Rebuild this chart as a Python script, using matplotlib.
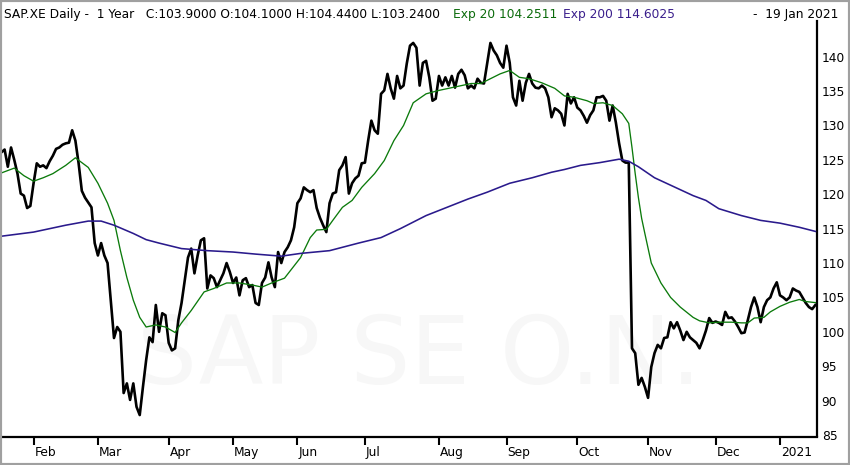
import numpy as np
import pandas as pd
import matplotlib
matplotlib.use("Agg")
import matplotlib.pyplot as plt
from matplotlib.patches import Rectangle
from matplotlib import font_manager

# ---------------- data ----------------
holidays = ['2020-04-10', '2020-04-13', '2020-05-01', '2020-06-01',
            '2020-12-24', '2020-12-25', '2020-12-31', '2021-01-01']

close = [
    126.1, 126.5, 124.0, 126.8, 125.0, 123.0, 120.1, 119.8, 118.0, 118.3,
    121.6, 124.5, 124.0, 124.2, 123.8, 124.8, 125.6, 126.6, 126.8, 127.2,
    127.4, 127.5, 129.3, 127.8, 124.5, 120.5, 119.5, 118.8, 118.1, 112.9,
    111.1, 112.9, 111.1, 110.0, 104.6, 99.1, 100.7, 100.0, 91.1, 92.5,
    90.1, 92.5, 89.1, 87.9, 92.0, 95.9, 99.2, 98.5, 103.9, 100.0,
    102.7, 102.4, 98.4, 97.3, 97.6, 101.7, 104.2, 107.5, 110.8, 112.1,
    108.5, 111.1, 113.3, 113.6, 106.3, 108.2, 107.8, 106.5, 107.5, 108.5,
    110.0, 108.7, 107.1, 107.9, 105.3, 107.5, 107.8, 106.5, 106.8, 104.2,
    103.9, 107.1, 107.9, 110.1, 107.9, 106.5, 111.6, 110.0, 111.6, 112.3,
    113.3, 115.2, 118.7, 119.4, 121.0, 120.6, 120.3, 120.6, 118.0, 116.6,
    115.5, 114.5, 118.7, 120.1, 120.3, 123.5, 124.2, 125.4, 120.1, 121.6,
    122.3, 122.7, 124.5, 124.6, 127.8, 130.7, 129.3, 128.8, 134.6, 135.1,
    137.5, 135.4, 133.9, 137.2, 135.4, 135.8, 139.0, 141.6, 142.0, 141.3,
    135.8, 139.1, 139.4, 137.0, 133.6, 133.9, 137.2, 135.8, 137.0, 135.8,
    137.2, 135.5, 137.5, 138.1, 137.3, 135.4, 135.8, 135.4, 136.8, 136.2,
    136.1, 139.0, 142.0, 140.9, 140.2, 139.1, 138.4, 141.6, 139.1, 134.1,
    132.9, 136.5, 133.6, 136.2, 137.5, 136.1, 135.5, 135.4, 135.8, 135.4,
    134.1, 131.2, 132.5, 132.2, 131.7, 130.0, 134.6, 133.2, 134.1, 132.6,
    132.2, 131.4, 130.4, 131.5, 132.2, 134.1, 134.1, 134.3, 133.6, 130.7,
    132.9, 130.4, 127.4, 124.9, 124.6, 124.6, 97.6, 96.9, 92.3, 93.3,
    92.0, 90.4, 94.9, 96.9, 98.1, 97.6, 99.1, 99.2, 101.4, 100.5,
    101.4, 100.2, 98.8, 100.0, 99.2, 98.8, 98.4, 97.6, 98.8, 100.2,
    102.0, 101.3, 101.5, 101.3, 101.0, 102.9, 102.0, 102.1, 101.5, 100.7,
    99.8, 99.9, 101.7, 103.6, 105.0, 103.6, 101.4, 103.6, 104.6, 105.0,
    106.3, 107.2, 105.3, 105.0, 104.6, 105.0, 106.3, 106.0, 105.8, 105.0,
    104.2, 103.6, 103.3, 103.9,
]

ema20_day = [0, 4, 7, 10, 13, 16, 20, 23, 27, 30,
             33, 35, 37, 39, 41, 43, 45, 48, 51, 54,
             56, 59, 63, 66, 70, 74, 78, 81, 84, 88,
             90, 93, 96, 98, 101, 103, 106, 109, 112, 116,
             119, 122, 125, 128, 132, 136, 139, 143, 146, 149,
             152, 155, 158, 161, 164, 168, 172, 175, 178, 182,
             184, 187, 190, 193, 195, 196, 197, 198, 199, 200,
             202, 205, 208, 211, 215, 217, 220, 223, 227, 230,
             232, 234, 237, 239, 242, 245, 248, 250, 253]
ema20_val = [123.1, 123.8, 122.7, 121.9, 122.4, 123.0, 124.2, 125.3, 123.9, 121.6,
             118.7, 116.2, 111.8, 107.9, 104.6, 102.1, 100.7, 101.0, 100.7, 99.9,
             101.3, 103.1, 105.8, 106.3, 107.1, 107.1, 106.8, 106.5, 107.1, 107.8,
             109.0, 110.8, 113.7, 114.8, 114.9, 116.2, 118.1, 119.1, 121.0, 123.0,
             124.9, 127.8, 130.0, 133.3, 134.6, 135.1, 135.4, 135.8, 136.1, 136.1,
             136.8, 137.5, 138.0, 137.0, 136.8, 136.2, 135.4, 134.3, 134.1, 133.6,
             133.2, 133.3, 132.9, 131.7, 130.3, 126.8, 123.0, 119.5, 116.5, 114.3,
             110.0, 107.1, 105.0, 103.6, 102.1, 101.6, 101.3, 101.4, 101.4, 101.3,
             101.3, 102.0, 102.1, 102.9, 103.7, 104.3, 104.7, 104.4, 104.25]

ema200_day = [0, 10, 20, 27, 31, 35, 41, 45, 49, 56,
              64, 72, 79, 87, 93, 102, 111, 118, 124, 132,
              145, 151, 158, 165, 171, 175, 180, 186, 192, 195,
              198, 203, 209, 215, 219, 223, 230, 236, 242, 248,
              253]
ema200_val = [113.9, 114.5, 115.5, 116.1, 116.1, 115.5, 114.3, 113.4, 112.9, 112.1,
              111.8, 111.6, 111.3, 111.0, 111.4, 111.8, 112.9, 113.7, 115.0, 116.9,
              119.3, 120.3, 121.6, 122.4, 123.2, 123.6, 124.2, 124.6, 125.1, 124.8,
              124.0, 122.4, 121.1, 119.8, 119.1, 117.9, 116.9, 116.2, 115.8, 115.2,
              114.6]

month_labels = ['Feb', 'Mar', 'Apr', 'May', 'Jun', 'Jul', 'Aug', 'Sep',
                'Oct', 'Nov', 'Dec', '2021']
y_ticks = [85, 90, 95, 100, 105, 110, 115, 120, 125, 130, 135, 140]

last_open, last_high, last_low = 104.10, 104.44, 103.24
ema20_last, ema200_last = 104.2511, 114.6025

# ---------------- trading calendar ----------------
days = pd.bdate_range('2020-01-20', '2021-01-19')
days = days[~days.isin(pd.to_datetime(holidays))]
n = min(len(days), len(close))
days = days[:n]
idx = np.arange(n)
per = days.to_period('M')
month_starts = [i for i in range(1, n) if per[i] != per[i - 1]]

# ---------------- figure ----------------
W, H = 850, 465
fig = plt.figure(figsize=(W / 100, H / 100), dpi=100)
fig.patch.set_facecolor('white')

left_px, right_px, top_px, bot_px = 2, 817.3, 21, 436.5
ax = fig.add_axes([left_px / W, (H - bot_px) / H,
                   (right_px - left_px) / W, (bot_px - top_px) / H])
ax.set_xlim(0.19, 253.6)
ax.set_ylim(84.78, 145.19)
ax.set_facecolor('white')

# watermark (narrow font if available)
installed = {f.name for f in font_manager.fontManager.ttflist}
if 'Liberation Sans Narrow' in installed:
    wm_family, wm_size = 'Liberation Sans Narrow', 79
else:
    wm_family, wm_size = 'DejaVu Sans', 68
ax.text(0.512, 0.19, 'SAP SE O.N.', transform=ax.transAxes, ha='center',
        va='center', fontsize=wm_size, color='#f7f7f7', family=wm_family,
        zorder=0)

ax.plot(idx, close[:n], color='black', lw=1.9, zorder=3,
        solid_joinstyle='round')
ax.plot(ema20_day, ema20_val, color='#0b7a0b', lw=0.95, zorder=4)
ax.plot(ema200_day, ema200_val, color='#2a1a8c', lw=1.15, zorder=4)

for s in ['top', 'left']:
    ax.spines[s].set_visible(False)
for s in ['bottom', 'right']:
    ax.spines[s].set_color('black')
    ax.spines[s].set_linewidth(1.6)

ax.yaxis.tick_right()
ax.set_yticks(y_ticks)
ax.set_yticklabels([str(v) for v in y_ticks])
ax.tick_params(axis='y', length=0, pad=3.2, labelsize=8.8, colors='black')

ax.set_xticks(month_starts)
ax.set_xticklabels([''] * len(month_starts))
ax.tick_params(axis='x', direction='out', length=6, width=1.5, colors='black')
for pos, lab in zip(month_starts, month_labels):
    ax.annotate(lab, xy=(pos, 0), xycoords=('data', 'axes fraction'),
                xytext=(1, -9), textcoords='offset pixels',
                ha='left', va='top', fontsize=8.8, color='black',
                annotation_clip=False)

# header
base_y = (H - 18.3) / H
fig.text(4 / W, base_y,
         'SAP.XE Daily -  1 Year   C:%.4f O:%.4f H:%.4f L:%.4f'
         % (close[-1], last_open, last_high, last_low),
         fontsize=8.8, color='black', va='baseline', ha='left')
fig.text(453 / W, base_y, 'Exp 20 %.4f' % ema20_last,
         fontsize=8.8, color='#0b6b0b', va='baseline', ha='left')
fig.text(563 / W, base_y, 'Exp 200 %.4f' % ema200_last,
         fontsize=8.8, color='#3a1e8c', va='baseline', ha='left')
fig.text(838 / W, base_y, '-  19 Jan 2021',
         fontsize=8.8, color='black', va='baseline', ha='right')

# outer frame
fig.patches.append(Rectangle((0, 0), 1, 1, transform=fig.transFigure,
                             fill=False, edgecolor='#a0a0a0', linewidth=3,
                             zorder=10))

fig.savefig('out.png', dpi=100, facecolor='white')
